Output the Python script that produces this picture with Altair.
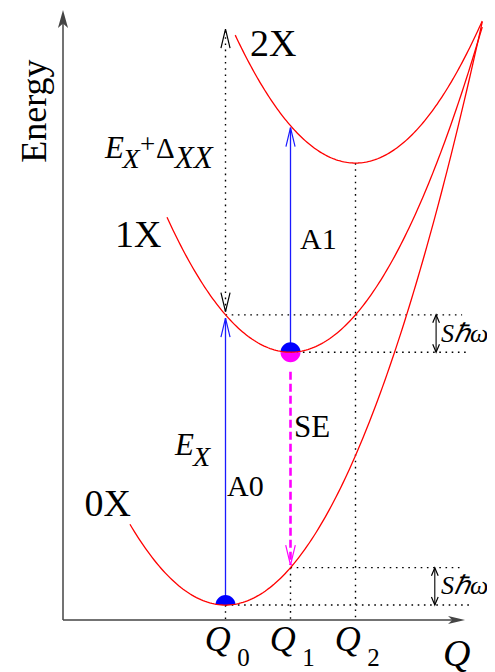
import altair as alt
import numpy as np
import pandas as pd

# ---------------- data (diagram units) ----------------
states = ["0X", "1X", "2X"]
q_min = [2.5, 3.5, 4.5]          # Q0, Q1, Q2 : position of each minimum
e_min = [0.23, 4.12, 7.03]       # energy at each minimum
curvature = 0.575                # same curvature for all (S hbar omega)
q_start = [1.03, 1.6, 2.65]      # left end of each drawn curve
q_end = [6.45, 6.45, 6.45]       # right end of each drawn curve
tick_subs = ["0", "1", "2"]
q_axis_end = 6.185
e_axis_end = 9.385

# ---------------- layout ----------------
W, H = 479, 664
PX = 65.0
OX, OY = 63, 620  # page pixel of the origin
xdom = [(8 - OX) / PX, (8 + W - OX) / PX]
ydom = [(OY - 8 - H) / PX, (OY - 8) / PX]
xs = alt.Scale(domain=xdom, nice=False, zero=False)
ys = alt.Scale(domain=ydom, nice=False, zero=False)
FONT = "Liberation Serif"


def energy(i, q):
    return e_min[i] + curvature * (q - q_min[i]) ** 2


Q0, Q1, Q2 = q_min
e0, e1, e2 = e_min
e1_at_q0 = energy(1, Q0)
e0_at_q1 = energy(0, Q1)
e2_at_q1 = energy(2, Q1)

# parabolas
rows = []
for i, s in enumerate(states):
    for q in np.linspace(q_start[i], q_end[i], 160):
        rows.append({"state": s, "q": q, "e": energy(i, q)})
curves = pd.DataFrame(rows)


def seg(lst):
    return pd.DataFrame(lst, columns=["q", "e", "q2", "e2"])


axes_df = seg([(0, 0, 0, e_axis_end - 0.2), (0, 0, q_axis_end - 0.16, 0)])
dotted_df = seg([
    (Q0, e0, Q0, 0),
    (Q1, e0_at_q1, Q1, 0),
    (Q2, e2, Q2, 0),
    (Q0, e1_at_q0 + 0.05, Q0, 9.09),
    (Q0, e1_at_q0, 6.14, e1_at_q0),
    (Q1, e1, 6.26, e1),
    (Q1, e0_at_q1, 6.14, e0_at_q1),
    (Q0, e0, 6.26, e0),
])
blue_df = seg([(Q0, e0, Q0, e1_at_q0 - 0.05), (Q1, e1, Q1, e2_at_q1 - 0.03)])
mag_df = seg([(Q1, e1 - 0.3, Q1, e0_at_q1 + 0.04)])
sho_df = seg([(5.74, e1, 5.74, e1_at_q0), (5.72, e0, 5.72, e0_at_q1)])

UP = "M-0.24,1L0,0L0.24,1"
DOWN = "M-0.24,-1L0,0L0.24,-1"
SUP = "M-0.42,1L0,0L0.42,1"
SDOWN = "M-0.42,-1L0,0L0.42,-1"
AX_UP = "M0,0L-0.28,1L0,0.75L0.28,1Z"
AX_RIGHT = "M0,0L-1,-0.24L-0.75,0L-1,0.24Z"
TOPHALF = "M-1,0A1,1,0,0,1,1,0Z"
BOTHALF = "M-1,0A1,1,0,0,0,1,0Z"

heads = pd.DataFrame([
    (Q0, e1_at_q0 - 0.05, UP, "#1a1aff", 1444),
    (Q1, e2_at_q1 - 0.03, UP, "#1a1aff", 1444),
    (Q0, e1_at_q0 + 0.05, DOWN, "#000000", 1444),
    (Q0, 9.09, UP, "#000000", 1444),
    (Q1, e0_at_q1 + 0.04, DOWN, "#ff00ff", 1600),
    (5.74, e1_at_q0, SUP, "#000000", 256),
    (5.74, e1, SDOWN, "#000000", 256),
    (5.72, e0_at_q1, SUP, "#000000", 256),
    (5.72, e0, SDOWN, "#000000", 256),
], columns=["q", "e", "shape", "color", "size"])

filled = pd.DataFrame([
    (Q0, e0, TOPHALF, "#0000ff", 400),
    (Q1, e1, TOPHALF, "#0000ff", 400),
    (Q1, e1, BOTHALF, "#ff00ff", 400),
    (0, e_axis_end, AX_UP, "#444444", 1296),
    (q_axis_end, 0, AX_RIGHT, "#444444", 1156),
], columns=["q", "e", "shape", "color", "size"])

upright = pd.DataFrame([
    (2.877, 8.677, "2X", 38),
    (0.80, 5.738, "1X", 38),
    (0.33, 1.60, "0X", 38),
    (3.646, 5.708, "A1", 30),
    (2.523, 1.908, "A0", 30),
    (3.554, 2.815, "SE", 31),
    (1.185, 7.18, "+", 27),
    (1.43, 7.108, "Δ", 29),
], columns=["q", "e", "text", "size"])

ital_rows = [
    (0.645, 7.108, "E", 31),
    (0.915, 6.954, "X", 28),
    (1.72, 6.954, "XX", 31),
    (1.723, 2.538, "E", 31),
    (2.0, 2.369, "X", 28),
    (5.846, -0.70, "Q", 38),
]
for qv in q_min:
    ital_rows.append((qv - 0.32, -0.47, "Q", 36))
italic = pd.DataFrame(ital_rows, columns=["q", "e", "text", "size"])
subs = pd.DataFrame([(qv + 0.18, -0.70, s, 25) for qv, s in zip(q_min, tick_subs)],
                    columns=["q", "e", "text", "size"])
sho_txt = pd.DataFrame([(5.815, (e1 + e1_at_q0) / 2, "Sℏω", 26),
                        (5.815, (e0 + e0_at_q1) / 2, "Sℏω", 26)],
                       columns=["q", "e", "text", "size"])
energy_lbl = pd.DataFrame([(-0.43, 7.83, "Energy", 36)], columns=["q", "e", "text", "size"])


def X(f="q"):
    return alt.X(f"{f}:Q", scale=xs, axis=None)


def Y(f="e"):
    return alt.Y(f"{f}:Q", scale=ys, axis=None)


def rules(df, **kw):
    return alt.Chart(df).mark_rule(**kw).encode(x=X(), y=Y(), x2="q2", y2="e2")


curve_layer = alt.Chart(curves).mark_line(color="#ff0000", strokeWidth=1.3).encode(
    x=X(), y=Y(), detail="state:N", order="q:Q")

layers = [
    rules(axes_df, color="#444444", strokeWidth=1.5),
    rules(dotted_df, color="#000000", strokeWidth=1.4, strokeDash=[1.6, 4.6]),
    rules(blue_df, color="#1a1aff", strokeWidth=1.3),
    rules(mag_df, color="#ff00ff", strokeWidth=2.6, strokeDash=[8, 4]),
    rules(sho_df, color="#000000", strokeWidth=1.1),
    alt.Chart(filled).mark_point(filled=True, opacity=1, strokeWidth=0).encode(
        x=X(), y=Y(), shape=alt.Shape("shape:N", scale=None),
        color=alt.Color("color:N", scale=None), size=alt.Size("size:Q", scale=None)),
    curve_layer,
    alt.Chart(heads).mark_point(filled=False, opacity=1, strokeWidth=1.2).encode(
        x=X(), y=Y(), shape=alt.Shape("shape:N", scale=None),
        color=alt.Color("color:N", scale=None), size=alt.Size("size:Q", scale=None)),
    alt.Chart(upright).mark_text(font=FONT, align="left", baseline="alphabetic", color="black").encode(
        x=X(), y=Y(), text="text:N", size=alt.Size("size:Q", scale=None)),
    alt.Chart(italic).mark_text(font=FONT, fontStyle="italic", align="left", baseline="alphabetic", color="black").encode(
        x=X(), y=Y(), text="text:N", size=alt.Size("size:Q", scale=None)),
    alt.Chart(subs).mark_text(font=FONT, align="left", baseline="alphabetic", color="black").encode(
        x=X(), y=Y(), text="text:N", size=alt.Size("size:Q", scale=None)),
    alt.Chart(sho_txt).mark_text(font=FONT, fontStyle="italic", align="left", baseline="middle", color="black").encode(
        x=X(), y=Y(), text="text:N", size=alt.Size("size:Q", scale=None)),
    alt.Chart(energy_lbl).mark_text(font=FONT, align="center", baseline="middle", angle=270, color="black").encode(
        x=X(), y=Y(), text="text:N", size=alt.Size("size:Q", scale=None)),
]

chart = alt.layer(*layers).properties(
    width=W, height=H, padding=0, autosize=alt.AutoSizeParams(type="none")
).configure_view(strokeWidth=0)

chart.save("out.html", embed_options={"renderer": "svg", "actions": False})
